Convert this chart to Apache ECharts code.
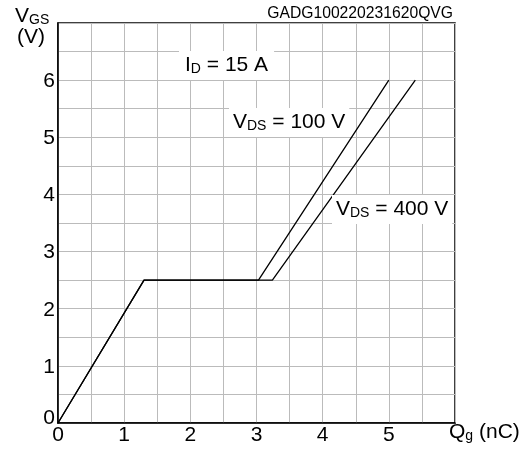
<!DOCTYPE html>
<html>
<head>
<meta charset="utf-8">
<script src="https://cdn.jsdelivr.net/npm/echarts@6/dist/echarts.min.js"></script>
<style>html,body{margin:0;padding:0;background:#fff;}#c{width:528px;height:451px;}</style>
</head>
<body>
<div id="c"></div>
<script>
// Gate charge data, I_D = 15 A
var qg100 = [0, 1.3, 3.03, 5.0];
var vgs100 = [0, 2.5, 2.5, 6.0];
var qg400 = [0, 1.3, 3.24, 5.4];
var vgs400 = [0, 2.5, 2.5, 6.0];
var xTicks = [0, 1, 2, 3, 4, 5];
var yTicks = [0, 1, 2, 3, 4, 5, 6];

function pairs(xs, ys) { return xs.map(function (x, i) { return [x, ys[i]]; }); }

var FONT = 'Liberation Sans, Arial, sans-serif';
var chart = echarts.init(document.getElementById('c'), null, { renderer: 'canvas' });
var subRich = {
  m: { fontSize: 21, fontFamily: FONT, color: '#000', lineHeight: 22, verticalAlign: 'bottom' },
  s: { fontSize: 14, fontFamily: FONT, color: '#000', lineHeight: 15, verticalAlign: 'bottom' }
};
chart.setOption({
  animation: false,
  backgroundColor: '#fff',
  grid: { left: 58, right: 73, top: 23, bottom: 28, show: true, borderColor: '#000', borderWidth: 1.5, backgroundColor: 'transparent' },
  xAxis: {
    type: 'value', min: 0, max: 6, interval: 0.5,
    axisLine: { show: true, lineStyle: { color: '#000', width: 1.5 } },
    axisTick: { show: false },
    splitLine: { show: true, lineStyle: { color: '#bbb', width: 1 } },
    axisLabel: {
      margin: 2, fontSize: 21, fontFamily: FONT, color: '#000',
      formatter: function (v) { return xTicks.indexOf(v) >= 0 ? String(v) : ''; }
    }
  },
  yAxis: {
    type: 'value', min: 0, max: 7, interval: 0.5,
    axisLine: { show: true, lineStyle: { color: '#000', width: 1.5 } },
    axisTick: { show: false },
    splitLine: { show: true, lineStyle: { color: '#bbb', width: 1 } },
    axisLabel: {
      margin: 3, fontSize: 21, fontFamily: FONT, color: '#000',
      formatter: function (v) {
        if (v === 0) return '{z|0}';
        return yTicks.indexOf(v) >= 0 ? '{n|' + v + '}' : '';
      },
      rich: {
        z: { fontSize: 21, fontFamily: FONT, color: '#000', padding: [0, 0, 10, 0] },
        n: { fontSize: 21, fontFamily: FONT, color: '#000', padding: [2, 0, 0, 0] }
      }
    }
  },
  series: [
    { type: 'line', data: pairs(qg400, vgs400), symbol: 'none', lineStyle: { color: '#000', width: 1.3 }, z: 3 },
    { type: 'line', data: pairs(qg100, vgs100), symbol: 'none', lineStyle: { color: '#000', width: 1.3 }, z: 3 }
  ],
  graphic: [
    { type: 'text', right: 75, top: 6, style: { text: 'GADG100220231620QVG', font: '15.7px ' + FONT, fill: '#000' } },
    { type: 'text', left: 15, top: 6, style: { text: '{m|V}{s|GS}', rich: subRich } },
    { type: 'text', left: 17, top: 27, style: { text: '{m|(V)}', rich: subRich } },
    { type: 'text', left: 449, top: 422, style: { text: '{m|Q}{s|g}{m| (nC)}', rich: subRich } },
    { type: 'text', left: 179, top: 51, z: 10, style: { text: '{m|I}{s|D}{m| = 15 A}', rich: subRich, backgroundColor: '#fff', padding: [3, 6, 4, 6] } },
    { type: 'text', left: 229, top: 108, z: 10, style: { text: '{m|V}{s|DS}{m| = 100 V}', rich: subRich, backgroundColor: '#fff', padding: [3, 4, 4, 4] } },
    { type: 'text', left: 332, top: 195, z: 10, style: { text: '{m|V}{s|DS}{m| = 400 V}', rich: subRich, backgroundColor: '#fff', padding: [3, 4, 4, 4] } }
  ]
});
</script>
</body>
</html>
